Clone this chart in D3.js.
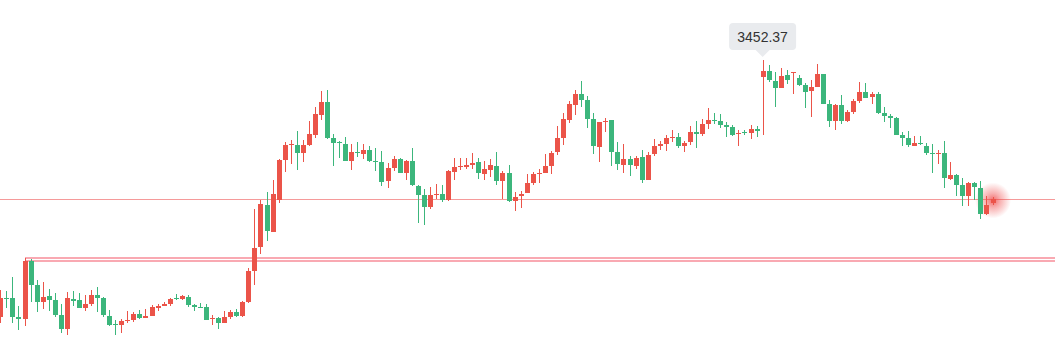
<!DOCTYPE html>
<html><head><meta charset="utf-8">
<script src="https://cdn.jsdelivr.net/npm/d3@7/dist/d3.min.js"></script>
<style>html,body{margin:0;padding:0;background:#fff;overflow:hidden}svg{display:block}</style>
</head><body><div id="chart"></div>
<script>
const open = [3195.7,3214.4,3214.4,3195.4,3193.4,3251.1,3227.4,3210.7,3216.4,3212.4,3197.4,3183.7,3213.4,3212.4,3204.7,3208.4,3217.4,3214.4,3196.4,3188.7,3187.7,3191.4,3192.4,3198.4,3194.4,3196.4,3204.4,3206.4,3208.4,3214.1,3213.4,3215.4,3207.4,3205.4,3205.4,3193.4,3194.4,3189.4,3195.4,3200.4,3196.4,3210.4,3241.7,3265.7,3307.4,3280.7,3312.4,3352.4,3367.7,3367.4,3359.4,3367.4,3377.4,3397.4,3410.4,3374.4,3370.7,3368.4,3351.4,3360.4,3358.4,3362.4,3351.4,3350.4,3331.4,3344.4,3353.4,3339.7,3351.4,3326.4,3317.4,3305.4,3317.4,3318.4,3312.4,3340.4,3345.7,3345.7,3347.7,3350.4,3338.7,3342.4,3346.4,3331.4,3339.4,3311.4,3316.7,3319.4,3329.4,3338.4,3339.4,3346.4,3360.4,3374.4,3392.4,3407.4,3418.4,3412.4,3393.4,3365.4,3390.7,3392.4,3360.4,3347.4,3353.4,3346.4,3355.4,3332.4,3358.4,3366.4,3368.4,3374.4,3375.4,3366.4,3370.4,3380.4,3378.4,3388.4,3392.4,3391.4,3387.4,3385.4,3378.4,3380.4,3379.4,3383.4,3435.4,3441.4,3431.4,3424.4,3437.4,3439.4,3434.4,3427.4,3421.4,3425.4,3438.4,3408.4,3391.4,3407.4,3391.4,3400.4,3411.4,3420.4,3415.4,3418.4,3399.4,3396.4,3394.4,3377.4,3374.4,3366.4,3369.4,3366.4,3359.4,3359.1,3359.4,3333.4,3337.4,3327.4,3316.4,3329.4,3324.4,3298.4,3308.9];
const close = [3214.7,3213.4,3195.7,3193.4,3251.7,3227.7,3210.7,3215.4,3212.4,3197.4,3183.7,3214.4,3211.4,3204.7,3208.4,3217.4,3214.7,3197.4,3187.4,3187.7,3191.7,3192.7,3198.4,3194.4,3196.4,3205.4,3206.7,3208.4,3213.4,3213.4,3216.4,3207.4,3205.4,3204.7,3192.4,3194.4,3189.4,3195.4,3200.4,3196.4,3210.4,3241.4,3264.4,3308.4,3281.7,3318.4,3352.4,3367.4,3368.7,3359.4,3367.4,3378.4,3398.4,3410.4,3374.4,3369.4,3369.7,3351.4,3360.4,3359.1,3362.4,3351.4,3350.7,3330.7,3344.4,3353.4,3339.7,3351.4,3327.4,3317.4,3305.4,3317.4,3318.4,3312.4,3341.4,3345.4,3346.7,3347.7,3349.4,3339.7,3343.4,3347.4,3331.4,3339.4,3311.4,3315.4,3318.4,3329.4,3338.4,3339.4,3346.4,3359.4,3374.4,3393.4,3408.4,3418.4,3412.4,3393.4,3366.4,3390.4,3391.7,3360.4,3348.4,3353.4,3347.4,3354.4,3332.4,3357.4,3366.4,3368.4,3374.4,3375.4,3366.4,3369.4,3380.4,3378.4,3388.4,3392.4,3391.4,3387.4,3385.7,3377.4,3379.4,3379.7,3383.4,3381.4,3441.4,3432.4,3424.4,3436.4,3432.4,3440.4,3427.4,3420.4,3425.4,3438.4,3408.4,3391.4,3407.4,3391.4,3400.4,3411.4,3420.4,3414.4,3418.4,3399.4,3396.4,3394.4,3377.4,3374.4,3367.4,3369.4,3368.4,3359.4,3358.7,3359.7,3334.4,3337.4,3327.4,3316.4,3329.4,3325.4,3298.4,3307.4,3312.9];
const high = [3222.4,3221.4,3235.4,3206.4,3254.1,3253.1,3232.4,3230.1,3223.4,3219.4,3208.4,3220.4,3221.4,3219.4,3217.4,3222.4,3225.4,3215.4,3202.4,3192.4,3193.4,3201.7,3200.7,3202.4,3203.4,3207.4,3208.4,3210.4,3214.4,3218.4,3217.1,3217.4,3208.4,3209.4,3208.4,3197.4,3195.4,3201.4,3202.4,3203.4,3211.4,3244.4,3303.4,3312.4,3320.4,3332.4,3353.4,3370.4,3372.4,3381.4,3372.4,3391.4,3405.4,3421.4,3422.4,3378.4,3371.7,3375.4,3368.4,3370.4,3368.4,3366.4,3364.4,3361.4,3349.4,3356.4,3354.1,3352.4,3364.4,3327.1,3323.4,3325.4,3328.4,3327.4,3342.4,3354.4,3354.4,3354.4,3359.4,3354.4,3351.4,3353.4,3360.4,3341.4,3347.4,3320.4,3321.4,3338.4,3340.4,3343.4,3358.4,3361.4,3386.4,3399.4,3411.4,3422.4,3431.4,3416.4,3399.4,3390.7,3394.4,3392.7,3370.4,3368.4,3356.4,3356.4,3362.4,3360.4,3373.4,3371.4,3377.4,3382.4,3379.4,3371.4,3386.4,3391.4,3393.4,3404.4,3399.4,3398.4,3390.4,3387.4,3382.4,3382.4,3387.4,3386.4,3452.37,3447.4,3440.4,3444.4,3442.4,3440.7,3437.4,3429.4,3432.4,3448.4,3438.4,3412.4,3408.4,3417.4,3402.4,3413.4,3430.4,3429.4,3420.4,3420.4,3405.4,3398.4,3395.4,3380.4,3381.4,3376.4,3376.4,3369.4,3368.4,3362.4,3371.4,3350.4,3338.4,3334.4,3330.4,3330.4,3331.4,3316.4,3314.9];
const low = [3189.7,3204.1,3189.7,3182.4,3186.4,3210.7,3200.7,3203.4,3201.7,3195.7,3179.7,3177.1,3206.4,3204.1,3201.7,3206.4,3200.7,3195.7,3186.4,3177.4,3179.7,3189.1,3190.4,3193.1,3193.9,3196.1,3201.4,3206.1,3206.4,3212.4,3212.4,3205.4,3201.4,3204.4,3192.4,3187.4,3183.4,3189.4,3193.4,3195.4,3195.4,3209.4,3227.4,3258.7,3271.7,3280.7,3309.7,3340.4,3348.4,3342.4,3350.4,3366.4,3374.4,3392.4,3373.4,3346.4,3354.4,3351.4,3342.4,3355.4,3353.4,3350.7,3341.4,3326.4,3324.4,3341.4,3339.1,3332.4,3326.4,3289.4,3287.4,3303.4,3313.4,3310.4,3311.4,3332.4,3342.4,3343.4,3343.4,3333.4,3332.4,3335.7,3327.4,3313.4,3310.4,3301.4,3304.4,3319.4,3327.4,3329.4,3339.4,3338.4,3357.4,3367.4,3389.4,3397.4,3405.4,3384.4,3358.4,3350.4,3380.4,3346.4,3342.4,3339.4,3336.4,3343.4,3329.4,3332.4,3356.4,3362.4,3361.4,3370.4,3364.4,3360.4,3367.4,3364.4,3376.4,3383.4,3388.4,3384.4,3375.4,3376.4,3366.4,3377.4,3373.4,3375.4,3377.4,3430.4,3405.4,3424.4,3428.4,3418.4,3426.4,3404.4,3395.4,3425.4,3408.4,3385.4,3382.4,3388.4,3390.4,3398.4,3409.4,3414.4,3408.4,3398.4,3390.4,3384.4,3377.4,3366.4,3365.4,3366.4,3367.4,3357.4,3339.4,3348.4,3324.4,3332.4,3316.4,3306.4,3306.4,3312.4,3293.4,3297.4,3307.4];
const levelStart = 4;
const levels = [3254.4, 3251.4];

const W = 1055, H = 361;
const UP = "#eb5449", DOWN = "#3cb67c";
const n = open.length;
const svg = d3.select("#chart").append("svg").attr("width", W).attr("height", H);

const x = d3.scaleLinear().domain([0, n - 1]).range([0.3, 992.5]);
const y = d3.scaleLinear().domain([d3.min(low), d3.max(high)]).range([335.3, 60]);

// last price line
const lastClose = close[n - 1];
const ly = Math.round(y(lastClose)) + 0.5;
svg.append("line").attr("x1", 0).attr("x2", W).attr("y1", ly).attr("y2", ly)
  .attr("stroke", "#f59a9a").attr("stroke-width", 1);

// level lines
levels.forEach(v => {
  const yy = Math.round(y(v));
  svg.append("line").attr("x1", Math.round(x(levelStart))).attr("x2", W)
    .attr("y1", yy).attr("y2", yy)
    .attr("stroke", "#f9a9b2").attr("stroke-width", 2);
});

// glow at last candle
const defs = svg.append("defs");
const rg = defs.append("radialGradient").attr("id", "glow");
rg.append("stop").attr("offset", "0%").attr("stop-color", "#ee3b3b").attr("stop-opacity", 0.75);
rg.append("stop").attr("offset", "40%").attr("stop-color", "#ee3b3b").attr("stop-opacity", 0.4);
rg.append("stop").attr("offset", "100%").attr("stop-color", "#ee3b3b").attr("stop-opacity", 0);
svg.append("circle").attr("cx", x(n - 1) + 0.5).attr("cy", y(lastClose) + 1).attr("r", 18).attr("fill", "url(#glow)");

// candles
const idx = d3.range(n);
const g = svg.append("g").attr("shape-rendering", "crispEdges");
const bw = 5;
g.selectAll("line.wick").data(idx).join("line").attr("class", "wick")
  .attr("x1", i => Math.round(x(i)) + 0.5).attr("x2", i => Math.round(x(i)) + 0.5)
  .attr("y1", i => y(high[i])).attr("y2", i => y(low[i]))
  .attr("stroke", i => close[i] >= open[i] ? UP : DOWN).attr("stroke-width", 1);
g.selectAll("rect.body").data(idx).join("rect").attr("class", "body")
  .attr("x", i => Math.round(x(i)) + 0.5 - bw / 2)
  .attr("width", bw)
  .attr("y", i => y(Math.max(open[i], close[i])))
  .attr("height", i => Math.max(1, Math.abs(y(open[i]) - y(close[i]))))
  .attr("fill", i => close[i] >= open[i] ? UP : DOWN);

// tooltip at max high
const iMax = d3.maxIndex(high);
const tx = x(iMax), ty = y(high[iMax]);
const tip = svg.append("g");
const bx = tx - 33.5, by = ty - 37, bwid = 67, bh = 27;
tip.append("rect").attr("x", bx).attr("y", by).attr("width", bwid).attr("height", bh)
  .attr("rx", 4).attr("fill", "#e9ebee");
tip.append("path").attr("d", `M${tx - 7},${by + bh} L${tx},${by + bh + 7} L${tx + 7},${by + bh} Z`).attr("fill", "#e9ebee");
tip.append("text").attr("x", tx).attr("y", by + 19).attr("text-anchor", "middle")
  .attr("font-family", "Liberation Sans, Arial, sans-serif").attr("font-size", 14).attr("fill", "#333")
  .text(high[iMax].toFixed(2));
</script></body></html>
